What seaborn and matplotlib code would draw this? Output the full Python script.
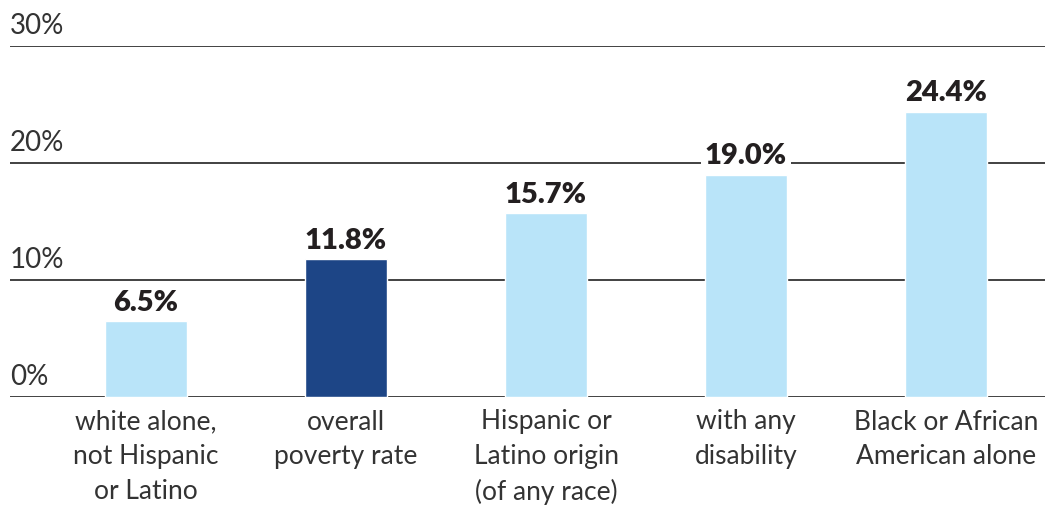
import matplotlib.pyplot as plt
import seaborn as sns
import pandas as pd

# data
categories = [
    "white alone,\nnot Hispanic\nor Latino",
    "overall\npoverty rate",
    "Hispanic or\nLatino origin\n(of any race)",
    "with any\ndisability",
    "Black or African\nAmerican alone",
]
rates = [6.5, 11.8, 15.7, 19.0, 24.4]
highlight = [False, True, False, False, False]
y_ticks = [0, 10, 20, 30]

colors = {False: "#b9e4f9", True: "#1d4586"}
text_color = "#231f20"

sns.set_style("white")
plt.rcParams["font.family"] = ["Lato", "DejaVu Sans"]

df = pd.DataFrame({"category": categories, "rate": rates, "highlight": highlight})

fig = plt.figure(figsize=(10.55, 5.08), dpi=100)
ax = fig.add_axes([10 / 1055, 111 / 508, 1035 / 1055, 351 / 508])

sns.barplot(data=df, x="category", y="rate", hue="highlight", palette=colors,
            saturation=1, dodge=False, width=0.41, legend=False, ax=ax, zorder=2)

ax.set_xlim(-0.68, 4.495)
ax.set_ylim(0, 30)

# gridlines and tick labels sitting above them
for t in y_ticks:
    ax.axhline(t, color="#333333", lw=1.3, zorder=1)
    ax.text(-0.68, t + 0.6, f"{t}%", ha="left", va="bottom",
            fontsize=20, color="#333333")

# value labels on white boxes so they cut the gridlines
for i, v in enumerate(rates):
    ax.text(i, v + 0.45, f"{v:.1f}%", ha="center", va="bottom",
            fontsize=21, fontweight="heavy", color=text_color, zorder=3,
            bbox=dict(facecolor="white", edgecolor="none", pad=3))

ax.set_yticks([])
ax.set_xlabel("")
ax.set_ylabel("")
ax.tick_params(axis="x", length=0, pad=9, labelsize=19, labelcolor="#333333")
for lbl in ax.get_xticklabels():
    lbl.set_linespacing(1.48)
for s in ax.spines.values():
    s.set_visible(False)

fig.savefig("out.png", dpi=100)
